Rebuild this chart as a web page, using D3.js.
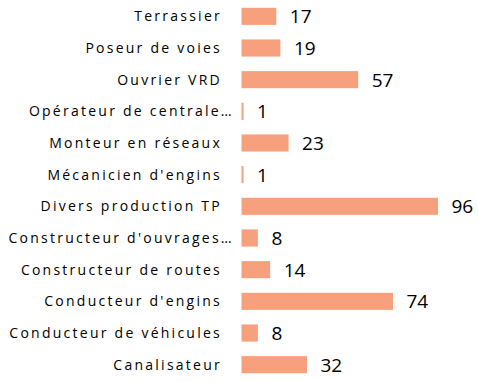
<!DOCTYPE html>
<html>
<head>
<meta charset="utf-8">
<script src="https://cdn.jsdelivr.net/npm/d3@7"></script>
<style>
  html, body { margin: 0; padding: 0; background: #fff; }
  svg { display: block; }
</style>
</head>
<body>
<svg id="chart" width="478" height="381"></svg>
<script>
// Effectifs par métier
const categories = [
  "Terrassier",
  "Poseur de voies",
  "Ouvrier VRD",
  "Opérateur de centrale…",
  "Monteur en réseaux",
  "Mécanicien d'engins",
  "Divers production TP",
  "Constructeur d'ouvrages…",
  "Constructeur de routes",
  "Conducteur d'engins",
  "Conducteur de véhicules",
  "Canalisateur"
];
const values = [17, 19, 57, 1, 23, 1, 96, 8, 14, 74, 8, 32];

const svg = d3.select("#chart");
const margin = { top: 0, left: 241.5 };
const barColor = "#F7A07E";

const x = d3.scaleLinear().domain([0, 100]).range([margin.left, margin.left + 204.7]);
const y = d3.scaleBand().domain(categories).range([0.5, 380.5]).paddingInner(0.46).paddingOuter(0.23);

// Bars
svg.append("g")
  .selectAll("rect")
  .data(values)
  .join("rect")
  .attr("x", x(0))
  .attr("y", (d, i) => y(categories[i]))
  .attr("width", d => x(d) - x(0))
  .attr("height", y.bandwidth())
  .attr("fill", barColor);

// Category labels (truncated names sit a little closer to the axis)
svg.append("g")
  .selectAll("text")
  .data(categories)
  .join("text")
  .attr("x", d => d.endsWith("…") ? 234 : 222)
  .attr("y", d => y(d) + y.bandwidth() / 2)
  .attr("dy", "0.35em")
  .attr("text-anchor", "end")
  .style("font-family", "'Open Sans', sans-serif")
  .style("font-size", "14px")
  .style("letter-spacing", "2.25px")
  .style("fill", "#000")
  .text(d => d);

// Value labels
svg.append("g")
  .selectAll("text")
  .data(values)
  .join("text")
  .attr("x", d => x(d) + 13.5)
  .attr("y", (d, i) => y(categories[i]) + y.bandwidth() / 2)
  .attr("dy", "0.37em")
  .style("font-family", "'Open Sans', sans-serif")
  .style("font-size", "19px")
  .style("fill", "#000")
  .text(d => d);
</script>
</body>
</html>
